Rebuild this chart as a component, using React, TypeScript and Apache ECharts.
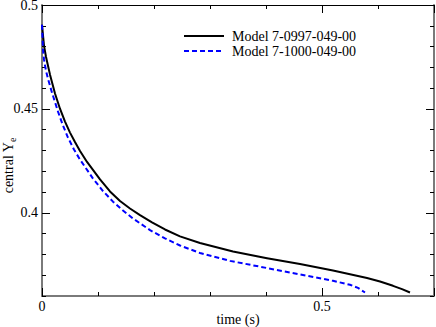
import React, { useEffect, useRef } from "react";
import * as echarts from "echarts";

const seriesNames = ["Model 7-0997-049-00", "Model 7-1000-049-00"];

const blackT = [0, 0.0036, 0.0071, 0.0107, 0.0143, 0.0232, 0.0321, 0.0411, 0.05, 0.0589, 0.0679, 0.0804, 0.1036, 0.1214, 0.1393, 0.1571, 0.175, 0.1964, 0.2196, 0.2464, 0.2821, 0.3411, 0.4018, 0.4607, 0.5196, 0.5804, 0.6036, 0.6268, 0.6429, 0.6571];
const blackY = [0.4905, 0.4804, 0.4751, 0.4708, 0.4665, 0.4574, 0.4501, 0.4439, 0.4386, 0.4341, 0.4298, 0.4245, 0.4161, 0.4103, 0.4057, 0.4021, 0.3989, 0.3954, 0.392, 0.3887, 0.3855, 0.3814, 0.3782, 0.3754, 0.3723, 0.3687, 0.367, 0.3649, 0.3633, 0.3617];

const blueT = [0, 0.0018, 0.0036, 0.0071, 0.0107, 0.0179, 0.0286, 0.0375, 0.0464, 0.0571, 0.0679, 0.0911, 0.1089, 0.1268, 0.1446, 0.1625, 0.1929, 0.2196, 0.2464, 0.2821, 0.3357, 0.3893, 0.4196, 0.4607, 0.5196, 0.55, 0.5643, 0.5768];
const blueY = [0.4905, 0.4785, 0.4737, 0.4684, 0.4645, 0.4578, 0.4487, 0.442, 0.4362, 0.4305, 0.4256, 0.4165, 0.4105, 0.4054, 0.4011, 0.3973, 0.3917, 0.3877, 0.3843, 0.3807, 0.3769, 0.3741, 0.3725, 0.3704, 0.3673, 0.3654, 0.3639, 0.3617];

const xMajorLabels = [0, 0.5];
const yMajorTicks = [0.4, 0.45, 0.5];

const FONT = "'Liberation Serif', 'Times New Roman', serif";

export default function App() {
  const ref = useRef<HTMLDivElement>(null);
  useEffect(() => {
    if (!ref.current) return;
    const chart = echarts.init(ref.current, null, { renderer: "svg" });
    const gray = "#7a7a7a";
    const minorX = (position: string, lineColor: string) => ({
      type: "value", position, min: 0, max: 0.7, interval: 0.1,
      axisLine: { show: true, onZero: false, lineStyle: { color: lineColor, width: lineColor === gray ? 2 : 1 } },
      axisTick: { show: true, inside: true, length: 4, lineStyle: { color: "#000", width: 1 } },
      axisLabel: { show: false }, splitLine: { show: false },
    });
    const majorX = (position: string, labels: boolean) => ({
      type: "value", position, min: 0, max: 0.7, interval: 0.5,
      axisLine: { show: false, onZero: false },
      axisTick: { show: true, inside: true, length: 8, lineStyle: { color: "#000", width: 1 } },
      axisLabel: labels ? {
        show: true, margin: 3, color: "#000", fontFamily: FONT, fontSize: 14,
        customValues: xMajorLabels,
        formatter: (v: number) => (v === 0 ? "0" : String(v)),
      } : { show: false },
      splitLine: { show: false },
      ...(labels ? { name: "time (s)", nameLocation: "middle", nameGap: 16, nameMoveOverlap: false, nameTextStyle: { color: "#000", fontFamily: FONT, fontSize: 14 } } : {}),
    });
    const minorY = (position: string, lineColor: string) => ({
      type: "value", position, min: 0.36, max: 0.5, interval: 0.01,
      axisLine: { show: true, onZero: false, lineStyle: { color: lineColor, width: 2 } },
      axisTick: { show: true, inside: true, length: 4, lineStyle: { color: "#000", width: 1 } },
      axisLabel: { show: false }, splitLine: { show: false },
    });
    const majorY = (position: string, labels: boolean) => ({
      type: "value", position, min: 0.36, max: 0.5,
      axisLine: { show: false, onZero: false },
      axisTick: { show: true, inside: true, length: 8, customValues: yMajorTicks, lineStyle: { color: "#000", width: 1 } },
      axisLabel: labels ? {
        show: true, margin: 4, color: "#000", fontFamily: FONT, fontSize: 14,
        padding: [3, 0, 0, 0],
        customValues: yMajorTicks,
        formatter: (v: number) => String(Math.round(v * 100) / 100),
      } : { show: false },
      splitLine: { show: false },
      ...(labels ? {
        name: "central Y{sub|e}", nameLocation: "middle", nameGap: 25, nameMoveOverlap: false,
        nameTextStyle: {
          color: "#000", fontFamily: FONT, fontSize: 14, padding: [0, 30, 0, 0],
          rich: { sub: { fontFamily: FONT, fontSize: 10, color: "#000", verticalAlign: "bottom", padding: [8, 0, 0, 0] } },
        },
      } : {}),
    });

    chart.setOption({
      animation: false,
      backgroundColor: "#fff",
      grid: { left: 42, right: 2, top: 5, bottom: 31, containLabel: false, outerBoundsMode: "none" },
      legend: {
        orient: "vertical", left: 183, top: 29, padding: 0, itemWidth: 40, itemHeight: 14, itemGap: 1,
        itemStyle: { opacity: 0 },
        textStyle: { color: "#000", fontFamily: FONT, fontSize: 14, padding: [0, 0, 0, 3] },
        data: seriesNames,
      },
      xAxis: [minorX("bottom", gray), majorX("bottom", true), minorX("top", "#000"), majorX("top", false)],
      yAxis: [minorY("left", gray), majorY("left", true), minorY("right", gray), majorY("right", false)],
      series: [
        {
          name: seriesNames[0], type: "line", xAxisIndex: 0, yAxisIndex: 0, smooth: false,
          showSymbol: false, symbol: "none",
          lineStyle: { color: "#000", width: 2, join: "round" }, itemStyle: { color: "#000" },
          data: blackT.map((t, i) => [t, blackY[i]]),
        },
        {
          name: seriesNames[1], type: "line", xAxisIndex: 0, yAxisIndex: 0, smooth: false,
          showSymbol: false, symbol: "none",
          lineStyle: { color: "#0000ff", width: 2, type: [5, 3], join: "round" }, itemStyle: { color: "#0000ff" },
          data: blueT.map((t, i) => [t, blueY[i]]),
        },
      ],
    });
    return () => chart.dispose();
  }, []);
  return <div ref={ref} style={{ position: "fixed", left: 0, top: 0, width: 436, height: 327 }} />;
}
